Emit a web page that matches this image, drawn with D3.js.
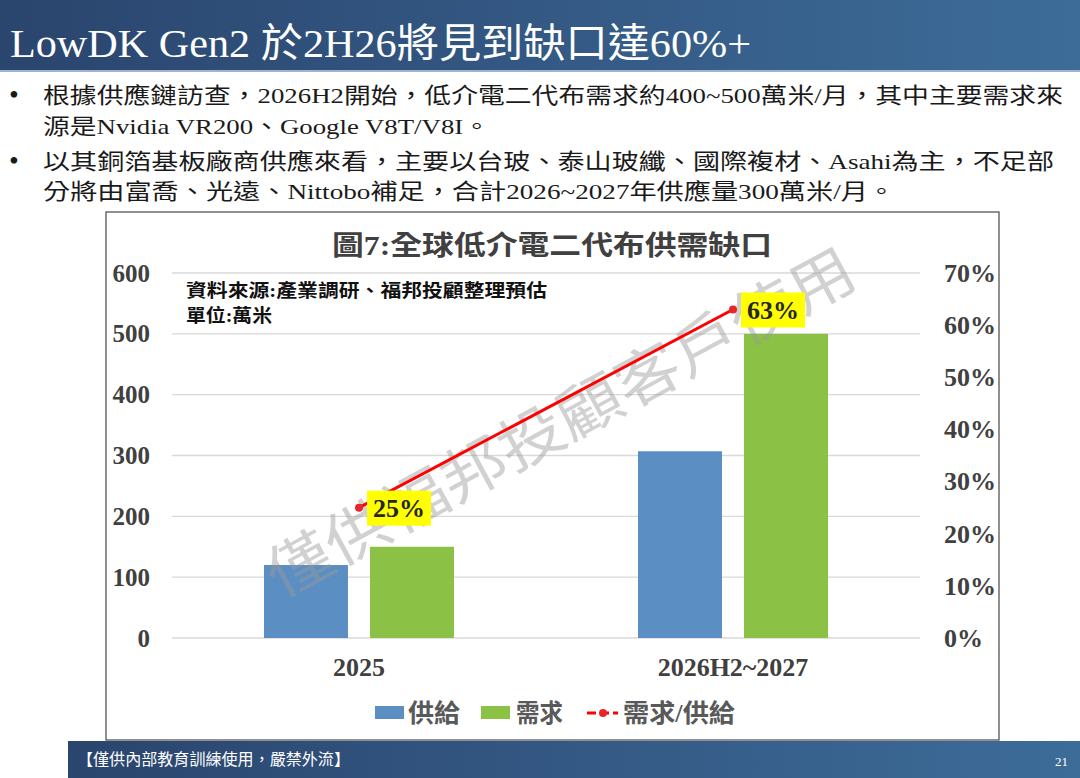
<!DOCTYPE html>
<html lang="zh-Hant">
<head>
<meta charset="utf-8">
<title>LowDK Gen2 供需缺口</title>
<script src="https://cdn.jsdelivr.net/npm/d3@7"></script>
<style>
  body { margin: 0; background: #fff; }
  svg { display: block; }
  .serif { font-family: "Liberation Serif", "Noto Sans CJK TC", serif; }
  .cjk { font-family: "Liberation Serif", "Noto Sans CJK TC", sans-serif; }
</style>
</head>
<body>
<script>
// page texts
var pageTitle = "LowDK Gen2 於2H26將見到缺口達60%+";
var bullets = [
  ["根據供應鏈訪查，2026H2開始，低介電二代布需求約400~500萬米/月，其中主要需求來", "源是Nvidia VR200、Google V8T/V8I。"],
  ["以其銅箔基板廠商供應來看，主要以台玻、泰山玻纖、國際複材、Asahi為主，不足部", "分將由富喬、光遠、Nittobo補足，合計2026~2027年供應量300萬米/月。"]
];
var footerText = "【僅供內部教育訓練使用，嚴禁外流】";
var pageNo = "21";

// chart data
var chartTitle = "圖7:全球低介電二代布供需缺口";
var sourceNote = ["資料來源:產業調研、福邦投顧整理預估", "單位:萬米"];
var watermark = "僅供福邦投顧客戶使用";
var categories = ["2025", "2026H2~2027"];
var supply = [120, 307];
var demand = [150, 500];
var ratio = [0.25, 0.63];
var leftTicks = [0, 100, 200, 300, 400, 500, 600];
var rightTicks = [0, 0.1, 0.2, 0.3, 0.4, 0.5, 0.6, 0.7];
var seriesNames = ["供給", "需求", "需求/供給"];

var W = 1080, H = 778;
var svg = d3.select("body").append("svg").attr("width", W).attr("height", H);

var defs = svg.append("defs");
var grad = defs.append("linearGradient").attr("id", "bar").attr("x1", 0).attr("x2", 1);
grad.append("stop").attr("offset", 0).attr("stop-color", "#2a456e");
grad.append("stop").attr("offset", 1).attr("stop-color", "#3d6c99");

// header
svg.append("rect").attr("x", 0).attr("y", 0).attr("width", W).attr("height", 70).attr("fill", "url(#bar)");
svg.append("rect").attr("x", 0).attr("y", 70).attr("width", W).attr("height", 2).attr("fill", "#9fb5cf");
svg.append("text").attr("class", "cjk")
  .attr("x", 10).attr("y", 57)
  .attr("font-size", 40).attr("fill", "#fff")
  .attr("textLength", 741).attr("lengthAdjust", "spacingAndGlyphs")
  .text(pageTitle);

// bullet text
var lineY = [[103, 134], [169, 199]];
var lineW = [[1020, 447], [1011, 852]];
bullets.forEach(function(b, i) {
  svg.append("text").attr("class", "serif").attr("x", 9).attr("y", lineY[i][0] + 1)
    .attr("font-size", 28).attr("fill", "#1a1a1a").text("•");
  b.forEach(function(t, j) {
    svg.append("text").attr("class", "cjk")
      .attr("x", 43).attr("y", lineY[i][j])
      .attr("font-size", 22).attr("fill", "#1a1a1a")
      .attr("textLength", lineW[i][j]).attr("lengthAdjust", "spacingAndGlyphs")
      .text(t);
  });
});

// chart frame
svg.append("rect").attr("x", 106).attr("y", 212).attr("width", 893).attr("height", 528)
  .attr("fill", "#fff").attr("stroke", "#555").attr("stroke-width", 1.3);

var x0 = d3.scaleBand().domain(categories).range([172, 920])
  .paddingInner(0.492).paddingOuter(0.246);
var x1 = d3.scaleBand().domain([0, 1]).range([0, x0.bandwidth()]).paddingInner(0.208);
var y = d3.scaleLinear().domain([0, 600]).range([638, 273]);
var yR = d3.scaleLinear().domain([0, 0.7]).range([638, 273]);

// grid
svg.append("g").selectAll("line").data(leftTicks).enter().append("line")
  .attr("x1", 172).attr("x2", 920)
  .attr("y1", function(d) { return y(d); }).attr("y2", function(d) { return y(d); })
  .attr("stroke", "#d9d9d9").attr("stroke-width", 1.3);

// axes
var axL = svg.append("g").attr("transform", "translate(172,0)")
  .call(d3.axisLeft(y).tickValues(leftTicks).tickSize(0).tickPadding(22));
var axR = svg.append("g").attr("transform", "translate(920,0)")
  .call(d3.axisRight(yR).tickValues(rightTicks).tickSize(0).tickPadding(24).tickFormat(d3.format(".0%")));
var axB = svg.append("g").attr("transform", "translate(0,638)")
  .call(d3.axisBottom(x0).tickSize(0).tickPadding(20));
[axL, axR, axB].forEach(function(a) {
  a.select(".domain").remove();
  a.selectAll("text").attr("class", "serif").attr("font-size", 25)
    .attr("font-weight", "bold").attr("fill", "#404040");
});
axR.selectAll("text").attr("font-size", 26);
axB.selectAll("text").attr("font-size", 26);

// chart title & note
svg.append("text").attr("class", "cjk").attr("x", 552).attr("y", 255)
  .attr("text-anchor", "middle").attr("font-size", 27).attr("font-weight", "bold")
  .attr("fill", "#404040").attr("textLength", 440).attr("lengthAdjust", "spacingAndGlyphs")
  .text(chartTitle);
svg.append("text").attr("class", "cjk").attr("x", 186).attr("y", 297)
  .attr("font-size", 18).attr("font-weight", "bold").attr("fill", "#111")
  .attr("textLength", 361).attr("lengthAdjust", "spacingAndGlyphs").text(sourceNote[0]);
svg.append("text").attr("class", "cjk").attr("x", 186).attr("y", 322)
  .attr("font-size", 18).attr("font-weight", "bold").attr("fill", "#111")
  .attr("textLength", 86).attr("lengthAdjust", "spacingAndGlyphs").text(sourceNote[1]);

// bars
var colors = ["#5b8fc3", "#8bc145"];
var grp = svg.append("g").selectAll("g").data(categories).enter().append("g")
  .attr("transform", function(d) { return "translate(" + x0(d) + ",0)"; });
grp.selectAll("rect").data(function(d, i) { return [supply[i], demand[i]]; }).enter().append("rect")
  .attr("x", function(d, j) { return x1(j); })
  .attr("width", x1.bandwidth())
  .attr("y", function(d) { return y(d); })
  .attr("height", function(d) { return y(0) - y(d); })
  .attr("fill", function(d, j) { return colors[j]; });

// watermark
svg.append("text").attr("font-family", "Noto Sans CJK TC")
  .attr("transform", "translate(558,418) rotate(-28.5)")
  .attr("text-anchor", "middle").attr("dominant-baseline", "central")
  .attr("font-size", 60).attr("fill", "#9a9a9a").attr("fill-opacity", 0.45)
  .attr("textLength", 660).attr("lengthAdjust", "spacingAndGlyphs")
  .text(watermark);

// ratio line
var cx = function(d, i) { return x0(categories[i]) + x0.bandwidth() / 2; };
var line = d3.line().x(cx).y(function(d) { return yR(d); });
svg.append("path").datum(ratio).attr("d", line)
  .attr("fill", "none").attr("stroke", "#ff0000").attr("stroke-width", 3);
svg.append("g").selectAll("circle").data(ratio).enter().append("circle")
  .attr("cx", cx).attr("cy", function(d) { return yR(d); }).attr("r", 4).attr("fill", "#e8262a");

var lab = svg.append("g").selectAll("g").data(ratio).enter().append("g")
  .attr("transform", function(d, i) { return "translate(" + (cx(d, i) + 8) + "," + yR(d) + ")"; });
lab.append("rect").attr("x", 0).attr("y", -17).attr("width", 64).attr("height", 35).attr("fill", "#ffff00");
lab.append("text").attr("class", "serif").attr("x", 32).attr("y", 9)
  .attr("text-anchor", "middle").attr("font-size", 26).attr("font-weight", "bold").attr("fill", "#262626")
  .text(function(d) { return d3.format(".0%")(d); });

// legend
var lg = svg.append("g").attr("transform", "translate(0,713)");
var legX = [375, 481, 587];
lg.append("rect").attr("x", legX[0]).attr("y", -7).attr("width", 29).attr("height", 13).attr("fill", colors[0]);
lg.append("rect").attr("x", legX[1]).attr("y", -7).attr("width", 29).attr("height", 13).attr("fill", colors[1]);
lg.append("line").attr("x1", legX[2]).attr("x2", legX[2] + 31).attr("y1", 0).attr("y2", 0)
  .attr("stroke", "#ff0000").attr("stroke-width", 3).attr("stroke-dasharray", "9,4");
lg.append("circle").attr("cx", legX[2] + 16).attr("cy", 0).attr("r", 4).attr("fill", "#e8262a");
var legTx = [408, 516, 623], legTw = [52, 47, 112];
seriesNames.forEach(function(n, i) {
  lg.append("text").attr("class", "cjk").attr("x", legTx[i]).attr("y", 9)
    .attr("font-size", 25).attr("font-weight", "bold").attr("fill", "#595959")
    .attr("textLength", legTw[i]).attr("lengthAdjust", "spacingAndGlyphs").text(n);
});

// footer
svg.append("rect").attr("x", 68).attr("y", 741).attr("width", W - 68).attr("height", H - 741).attr("fill", "url(#bar)");
svg.append("text").attr("class", "cjk").attr("x", 77).attr("y", 765)
  .attr("font-size", 16).attr("fill", "#fff")
  .attr("textLength", 273).attr("lengthAdjust", "spacingAndGlyphs").text(footerText);
svg.append("text").attr("class", "serif").attr("x", 1068).attr("y", 766)
  .attr("text-anchor", "end").attr("font-size", 13).attr("fill", "#fff").text(pageNo);
</script>
</body>
</html>
